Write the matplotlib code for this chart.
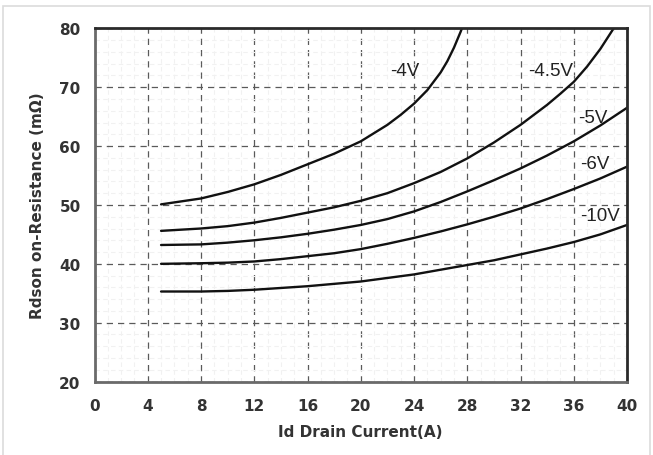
import matplotlib
matplotlib.use("Agg")
import matplotlib.pyplot as plt
from matplotlib.patches import Rectangle
from matplotlib.ticker import MultipleLocator

# Rds(on) vs drain current for several gate voltages
x_4v = [5, 8, 10, 12, 14, 16, 18, 20, 22, 23, 24, 25, 26, 26.5, 27, 27.5, 27.6]
r_4v = [50.1, 51.1, 52.2, 53.5, 55.1, 56.9, 58.7, 60.8, 63.6, 65.3, 67.2, 69.5,
        72.5, 74.4, 76.7, 79.4, 80.0]

x_45v = [5, 8, 10, 12, 14, 16, 18, 20, 22, 24, 26, 28, 30, 32, 34, 35, 36, 37, 38, 39]
r_45v = [45.6, 46.0, 46.4, 47.0, 47.8, 48.7, 49.6, 50.7, 52.0, 53.7, 55.6, 57.9,
         60.6, 63.6, 67.0, 68.9, 70.9, 73.5, 76.5, 80.0]

x_std = [5, 8, 10, 12, 14, 16, 18, 20, 22, 24, 26, 28, 30, 32, 34, 36, 38, 40]
r_5v = [43.2, 43.3, 43.6, 44.0, 44.5, 45.1, 45.8, 46.6, 47.6, 48.9, 50.5, 52.3,
        54.2, 56.2, 58.4, 60.8, 63.5, 66.5]
r_6v = [40.0, 40.1, 40.2, 40.4, 40.8, 41.3, 41.8, 42.5, 43.4, 44.4, 45.5, 46.7,
        48.0, 49.4, 51.0, 52.7, 54.5, 56.5]
r_10v = [35.3, 35.3, 35.4, 35.6, 35.9, 36.2, 36.6, 37.0, 37.6, 38.2, 39.0, 39.8,
         40.6, 41.6, 42.6, 43.7, 45.0, 46.6]

curves = [
    ("-4V", x_4v, r_4v, (23.3, 72.8)),
    ("-4.5V", x_45v, r_45v, (34.3, 72.8)),
    ("-5V", x_std, r_5v, (37.4, 64.8)),
    ("-6V", x_std, r_6v, (37.6, 57.1)),
    ("-10V", x_std, r_10v, (38.0, 48.2)),
]

x_ticks = list(range(0, 41, 4))
y_ticks = list(range(20, 81, 10))

fig = plt.figure(figsize=(6.53, 4.56), dpi=100)
fig.patches.append(Rectangle((3 / 653, -0.01), 647 / 653, 449 / 456 + 0.01,
                             transform=fig.transFigure, fill=False,
                             edgecolor="#dcdcdc", linewidth=1.2))
ax = fig.add_axes([94.5 / 653, 73.4 / 456, 532.5 / 653, 353.3 / 456])

ax.set_xlim(0, 40)
ax.set_ylim(20, 80)
ax.set_xticks(x_ticks)
ax.set_yticks(y_ticks)
ax.xaxis.set_minor_locator(MultipleLocator(1))
ax.yaxis.set_minor_locator(MultipleLocator(2))

ax.grid(which="minor", color="#f1f1f1", linestyle=(0, (4, 3)), linewidth=0.8)
ax.grid(which="major", color="#5a5a5a", linestyle=(0, (5, 4)), linewidth=0.9)
ax.set_axisbelow(True)

for label, xs, ys, (lx, ly) in curves:
    ax.plot(xs, ys, color="#111111", linewidth=1.7, solid_capstyle="round",
            solid_joinstyle="round")
    ax.text(lx, ly, label, fontsize=13.5, color="#222222", ha="center", va="center",
            family="Liberation Sans")

ax.tick_params(axis="x", which="both", length=0, pad=12)
ax.tick_params(axis="y", which="both", length=0, pad=10)
for lbl in ax.get_xticklabels() + ax.get_yticklabels():
    lbl.set_fontweight("bold")
    lbl.set_fontsize(11)
    lbl.set_color("#333333")
    lbl.set_family("DejaVu Sans")

for side in ["left", "bottom"]:
    ax.spines[side].set_color("#6a6a6a")
    ax.spines[side].set_linewidth(2.0)
for side in ["top", "right"]:
    ax.spines[side].set_color("#2a2a2a")
    ax.spines[side].set_linewidth(2.0)

ax.set_xlabel("Id Drain Current(A)", fontsize=11, fontweight="bold",
              color="#333333", family="DejaVu Sans", labelpad=8)
ax.set_ylabel("Rdson on-Resistance (m\u03a9)", fontsize=11, fontweight="bold",
              color="#333333", family="DejaVu Sans", labelpad=10)

fig.savefig("out.png", dpi=100)
